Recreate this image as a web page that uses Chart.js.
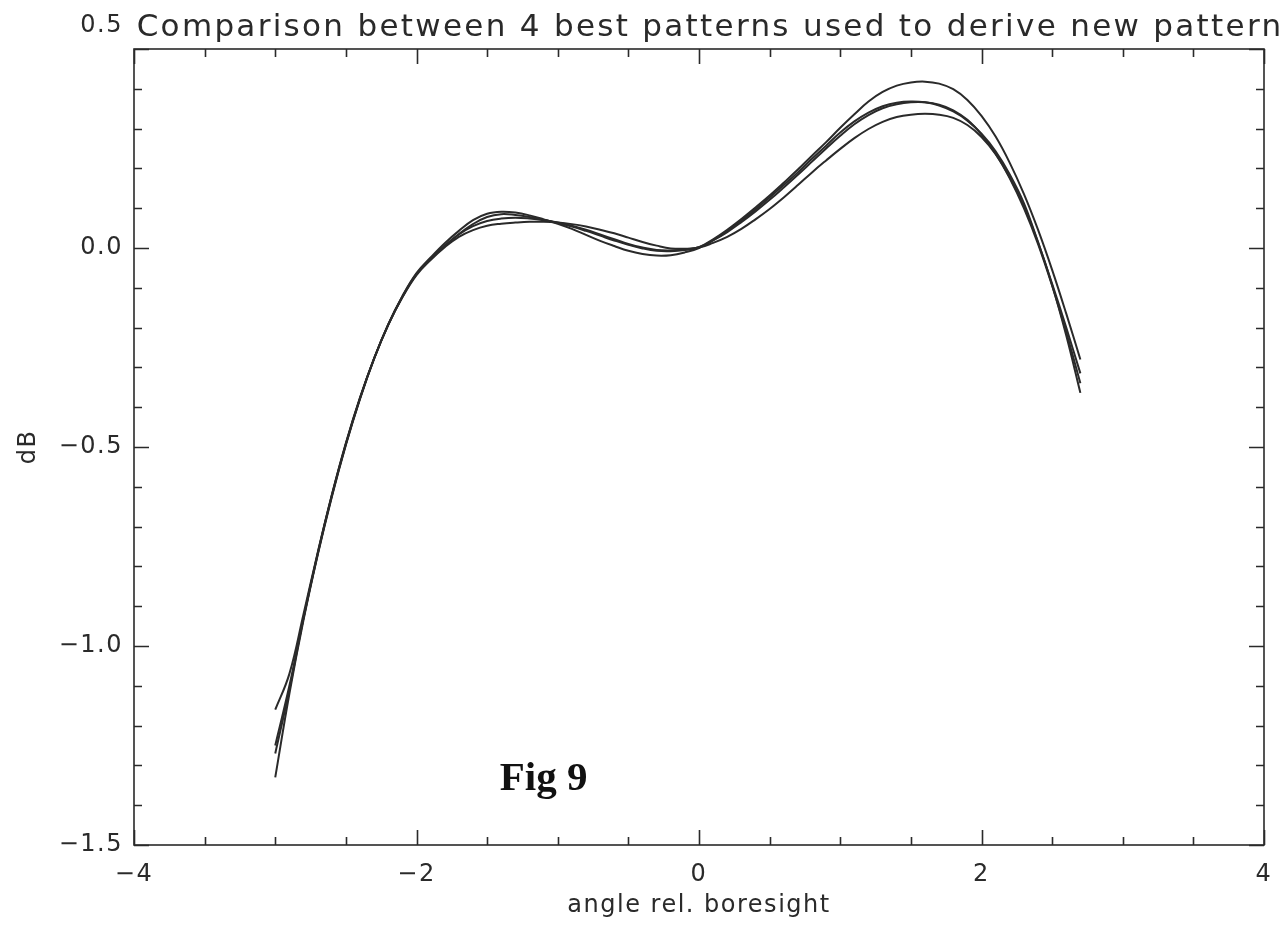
<!DOCTYPE html>
<html>
<head>
<meta charset="utf-8">
<script src="https://cdn.jsdelivr.net/npm/chart.js@4.4.0/dist/chart.umd.min.js"></script>
<style>
  html, body { margin: 0; padding: 0; background: #fff; }
</style>
</head>
<body>
<canvas id="myChart" width="1288" height="927"></canvas>
<script>
// angle rel. boresight, sampled every 0.1
var angles = [-3.0, -2.9, -2.8, -2.7, -2.6, -2.5, -2.4, -2.3, -2.2, -2.1, -2.0, -1.9, -1.8, -1.7, -1.6, -1.5, -1.4, -1.3, -1.2, -1.1, -1.0,
  -0.9, -0.8, -0.7, -0.6, -0.5, -0.4, -0.3, -0.2, -0.1, 0.0, 0.1, 0.2, 0.3, 0.4, 0.5, 0.6, 0.7, 0.8, 0.9, 1.0,
  1.1, 1.2, 1.3, 1.4, 1.5, 1.6, 1.7, 1.8, 1.9, 2.0, 2.1, 2.2, 2.3, 2.4, 2.5, 2.6, 2.7];

var pattern1 = [-1.25, -1.1, -0.93, -0.77, -0.624, -0.493, -0.378, -0.278, -0.193, -0.123, -0.066, -0.028, 0.005, 0.035, 0.06, 0.078, 0.085, 0.083, 0.078, 0.071, 0.063,
  0.054, 0.043, 0.031, 0.019, 0.008, -0.001, -0.007, -0.008, -0.005, 0.002, 0.022, 0.046, 0.073, 0.102, 0.132, 0.164, 0.197, 0.232, 0.266, 0.302,
  0.336, 0.368, 0.392, 0.408, 0.416, 0.418, 0.413, 0.399, 0.372, 0.332, 0.28, 0.214, 0.136, 0.046, -0.055, -0.165, -0.28];

var pattern2 = [-1.33, -1.12, -0.935, -0.772, -0.626, -0.495, -0.379, -0.278, -0.192, -0.121, -0.063, -0.024, 0.012, 0.043, 0.07, 0.086, 0.091, 0.089, 0.082, 0.072, 0.061,
  0.048, 0.033, 0.018, 0.005, -0.007, -0.015, -0.019, -0.018, -0.011, 0.0, 0.02, 0.043, 0.069, 0.097, 0.127, 0.158, 0.19, 0.224, 0.257, 0.29,
  0.318, 0.34, 0.356, 0.365, 0.368, 0.366, 0.358, 0.343, 0.32, 0.287, 0.243, 0.185, 0.113, 0.015, -0.09, -0.2, -0.315];

var pattern3 = [-1.27, -1.11, -0.93, -0.768, -0.622, -0.492, -0.377, -0.277, -0.192, -0.122, -0.065, -0.026, 0.006, 0.034, 0.055, 0.068, 0.074, 0.076, 0.074, 0.07, 0.064,
  0.056, 0.046, 0.034, 0.022, 0.01, 0.001, -0.005, -0.006, -0.004, 0.002, 0.019, 0.04, 0.065, 0.092, 0.121, 0.152, 0.184, 0.217, 0.25, 0.282,
  0.311, 0.334, 0.351, 0.361, 0.366, 0.366, 0.36, 0.346, 0.322, 0.285, 0.237, 0.175, 0.1, 0.01, -0.095, -0.212, -0.34];

var pattern4 = [-1.16, -1.07, -0.92, -0.766, -0.621, -0.49, -0.376, -0.277, -0.193, -0.124, -0.068, -0.03, 0.002, 0.028, 0.045, 0.056, 0.061, 0.064, 0.066, 0.066, 0.064,
  0.06, 0.054, 0.046, 0.037, 0.026, 0.015, 0.006, -0.001, -0.002, 0.001, 0.013, 0.028, 0.048, 0.072, 0.098, 0.127, 0.158, 0.19, 0.22, 0.249,
  0.276, 0.299, 0.317, 0.329, 0.335, 0.337, 0.335, 0.327, 0.309, 0.279, 0.236, 0.178, 0.105, 0.015, -0.093, -0.22, -0.364];

var xTicks = [-4, -2, 0, 2, 4];
var yTicks = [-1.5, -1.0, -0.5, 0.0, 0.5];
var titleText = "Comparison between 4 best patterns used to derive new pattern";
var figLabel = "Fig 9";

var ink = "#2a2a2a";

function points(ys) {
  return angles.map(function (a, i) { return { x: a, y: ys[i] }; });
}

function minus(s) {
  return s.replace("-", "\u2212");
}

// the plotted font is wide, so space the letters a bit
var spacingPlugin = {
  id: "spacing",
  beforeDraw: function (chart) {
    chart.ctx.letterSpacing = "1.5px";
  }
};

// IDL style frame: box with inward ticks on all four sides, plus title and label
var framePlugin = {
  id: "frame",
  afterDatasetsDraw: function (chart) {
    var ctx = chart.ctx;
    var a = chart.chartArea;
    var x = chart.scales.x;
    var y = chart.scales.y;
    ctx.save();
    ctx.strokeStyle = ink;
    ctx.lineWidth = 1.6;
    ctx.strokeRect(a.left, a.top, a.right - a.left, a.bottom - a.top);
    ctx.beginPath();
    for (var i = -8; i <= 8; i++) {
      var px = Math.round(x.getPixelForValue(i / 2)) + 0.5;
      var len = i % 4 === 0 ? 15 : 8;
      ctx.moveTo(px, a.bottom); ctx.lineTo(px, a.bottom - len);
      ctx.moveTo(px, a.top); ctx.lineTo(px, a.top + len);
    }
    for (var j = -15; j <= 5; j++) {
      var py = Math.round(y.getPixelForValue(j / 10)) + 0.5;
      var l2 = j % 5 === 0 ? 15 : 8;
      ctx.moveTo(a.left, py); ctx.lineTo(a.left + l2, py);
      ctx.moveTo(a.right, py); ctx.lineTo(a.right - l2, py);
    }
    ctx.stroke();

    ctx.fillStyle = ink;
    ctx.letterSpacing = "2.3px";
    ctx.font = "31px 'DejaVu Sans'";
    ctx.textAlign = "center";
    ctx.textBaseline = "alphabetic";
    ctx.fillText(titleText, 710, 36);

    ctx.letterSpacing = "0px";
    ctx.fillStyle = "#111";
    ctx.font = "bold 41px 'Liberation Serif'";
    ctx.textBaseline = "middle";
    ctx.fillText(figLabel, x.getPixelForValue(-1.1), y.getPixelForValue(-1.335));
    ctx.restore();
  }
};

var ctx = document.getElementById("myChart").getContext("2d");

var lineStyle = { borderColor: ink, borderWidth: 2, pointRadius: 0, fill: false, tension: 0.4 };

var graphData = {
  type: "line",
  data: {
    datasets: [
      Object.assign({ label: "pattern 1", data: points(pattern1) }, lineStyle),
      Object.assign({ label: "pattern 2", data: points(pattern2) }, lineStyle),
      Object.assign({ label: "pattern 3", data: points(pattern3) }, lineStyle),
      Object.assign({ label: "pattern 4", data: points(pattern4) }, lineStyle),
    ],
  },
  options: {
    responsive: false,
    animation: false,
    devicePixelRatio: 1,
    layout: { padding: { top: 49, right: 24, left: 0, bottom: 0 } },
    plugins: { legend: { display: false }, tooltip: { enabled: false }, title: { display: false } },
    scales: {
      x: {
        type: "linear",
        min: -4,
        max: 4,
        afterBuildTicks: function (s) { s.ticks = xTicks.map(function (v) { return { value: v }; }); },
        afterFit: function (s) { s.height = 82; s.paddingLeft = 0; s.paddingRight = 0; },
        grid: { display: false, drawTicks: false },
        border: { display: false },
        ticks: {
          padding: 15,
          color: ink,
          font: { family: "'DejaVu Sans'", size: 24 },
          callback: function (v) { return minus(String(v)); },
        },
        title: { display: true, text: "angle rel. boresight", color: ink, font: { family: "'DejaVu Sans'", size: 24 }, padding: { top: 0, bottom: 7 } },
      },
      y: {
        type: "linear",
        min: -1.5,
        max: 0.5,
        afterBuildTicks: function (s) { s.ticks = yTicks.map(function (v) { return { value: v }; }); },
        afterFit: function (s) { s.width = 134; s.paddingTop = 0; s.paddingBottom = 0; },
        grid: { display: false, drawTicks: false },
        border: { display: false },
        ticks: {
          padding: 11,
          color: ink,
          font: { family: "'DejaVu Sans'", size: 24, lineHeight: 1.95 },
          // the top label sits above the frame corner in the original
          callback: function (v) { return v === 0.5 ? [minus(v.toFixed(1)), ""] : minus(v.toFixed(1)); },
        },
        title: { display: true, text: "dB", color: ink, font: { family: "'DejaVu Sans'", size: 24 }, padding: { top: 14, bottom: 0 } },
      },
    },
  },
  plugins: [spacingPlugin, framePlugin],
};

var myChart = new Chart(ctx, graphData);
</script>
</body>
</html>
